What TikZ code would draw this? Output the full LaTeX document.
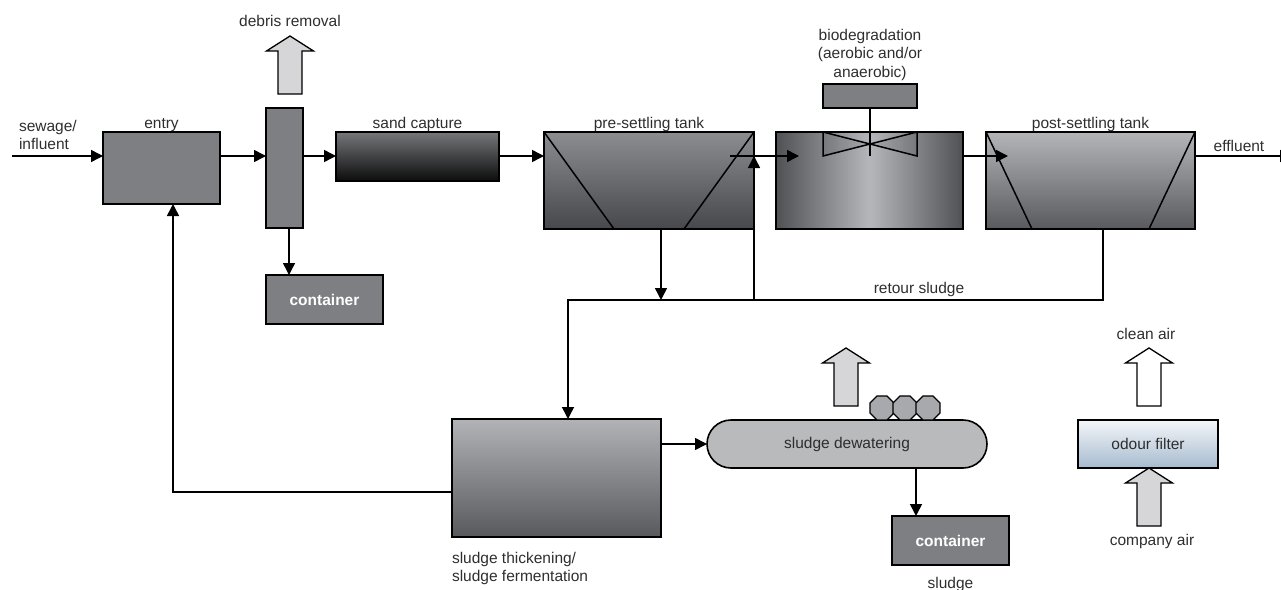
\documentclass[tikz,border=0pt]{standalone}
\usepackage{fontspec}
\setmainfont{Liberation Sans}
\usepackage{tikz}
\usetikzlibrary{positioning}
\usetikzlibrary{arrows.meta}
\usetikzlibrary{shapes.geometric}
\usepackage{xcolor}

\definecolor{txtgray}{HTML}{2E2E2E}
\definecolor{boxgray}{HTML}{7E7F83}
\definecolor{sandtop}{HTML}{76777B}
\definecolor{sandbot}{HTML}{0C0C0C}
\definecolor{pretop}{HTML}{8C8D91}
\definecolor{prebot}{HTML}{47484C}
\definecolor{bioedge}{HTML}{505155}
\definecolor{biomid}{HTML}{B5B7BA}
\definecolor{posttop}{HTML}{B3B5B8}
\definecolor{postbot}{HTML}{595A5E}
\definecolor{thicktop}{HTML}{B1B3B6}
\definecolor{thickbot}{HTML}{58595D}
\definecolor{dewgray}{HTML}{B9BABC}
\definecolor{rollgray}{HTML}{A8A9AC}
\definecolor{arrowgray}{HTML}{D6D6D8}
\definecolor{filtop}{HTML}{F4F6F9}
\definecolor{filbot}{HTML}{A6BBCF}

% block arrow pointing up: bottom centre, fill
\newcommand{\airarrow}[2]{%
\draw[line width=1.3pt, fill=#2] (#1) ++(-12,0) -- ++(0,-43) -- ++(-11.5,0) -- ++(23.5,-15) -- ++(23.5,15) -- ++(-11.5,0) -- ++(0,43) -- cycle;}

\begin{document}
\begin{tikzpicture}[x=1pt, y=-1pt,
  font=\fontsize{15.5}{18.5}\selectfont,
  every node/.style={text=txtgray, inner sep=0pt, outer sep=0pt},
  tank/.style={draw=black, line width=2pt},
  unit/.style={tank, fill=boxgray},
  boxtext/.style={text=white, font=\fontsize{15.5}{18.5}\selectfont\bfseries},
  flow/.style={line width=1.5pt, -{Triangle[length=12pt,width=12pt]}},
  pipe/.style={line width=1.5pt}]

\useasboundingbox (0,0) rectangle (1281,589);

\coordinate (main) at (0,156);
\coordinate (in) at (12,156);
\coordinate (split) at (754,300);
\coordinate (preout) at (730,156);
\coordinate (bioin) at (799,156);
\coordinate (postin) at (1008,156);
\coordinate (out) at (1292,156);

% units
\node (entry) [unit, minimum width=117pt, minimum height=72pt] at (161.5,168) {};
\node (screen) [unit, minimum width=37pt, minimum height=120pt] at (284.5,168) {};
\node (cont1) [unit, boxtext, minimum width=117pt, minimum height=49pt] at (324.5,299.5) {container};
\node (sand) [tank, top color=sandtop, bottom color=sandbot, minimum width=163pt, minimum height=49pt] at (417.5,156.5) {};
\node (pre) [tank, top color=pretop, bottom color=prebot, minimum width=210pt, minimum height=97pt] at (649,180.5) {};
\node (bio) [tank, left color=bioedge, right color=bioedge, middle color=biomid, minimum width=187pt, minimum height=97pt] at (869.5,180.5) {};
\node (biotop) [unit, minimum width=94pt, minimum height=24pt] at (870,96) {};
\node (post) [tank, top color=posttop, bottom color=postbot, minimum width=209pt, minimum height=97pt] at (1090.5,180.5) {};
\node (thick) [tank, top color=thicktop, bottom color=thickbot, minimum width=209pt, minimum height=118pt] at (556.5,478) {};
\node (dewater) [tank, line width=1.6pt, fill=dewgray, rounded corners=24pt, minimum width=280pt, minimum height=48pt] at (847,444) {sludge dewatering};
\node (cont2) [unit, boxtext, minimum width=117pt, minimum height=49pt] at (950.5,540.5) {container};
\node (filter) [tank, top color=filtop, bottom color=filbot, minimum width=140pt, minimum height=48pt] at (1148,444) {odour filter};

\foreach \i/\x in {1/882,2/905,3/928}
  \node (roll\i) [draw, line width=1.2pt, fill=rollgray, regular polygon, regular polygon sides=8, minimum size=26pt] at (\x,408) {};

% settling walls and aerator
\draw[pipe] (pre.north west) -- ([xshift=70pt]pre.south west);
\draw[pipe] (pre.north east) -- ([xshift=-70pt]pre.south east);
\draw[pipe] (post.north west) -- ([xshift=46pt]post.south west);
\draw[pipe] (post.north east) -- ([xshift=-46pt]post.south east);
\draw[pipe, fill=black, fill opacity=0.08] (biotop.south west |- bio.north) -- ++(94,24) -- ++(0,-24) -- ++(-94,24) -- cycle;
\draw[pipe] (biotop.south) -- (biotop.south |- main);

% labels
\node (sewlbl) [anchor=north west, align=left] at (19,120) {sewage/\\influent};
\node (entrylbl) [above=4pt of entry, anchor=base] {entry};
\node (debrislbl) [anchor=base] at (290,27) {debris removal};
\node (sandlbl) [above=4pt of sand, anchor=base] {sand capture};
\node (prelbl) [above=4pt of pre, anchor=base] {pre-settling tank};
\node (biolbl) [above=3.5pt of biotop, align=center] {biodegradation\\(aerobic and/or\\anaerobic)};
\node (postlbl) [above=4pt of post, anchor=base] {post-settling tank};
\node (efflbl) [anchor=base] at (1239,151) {effluent};
\node (retlbl) [anchor=base] at (919,293) {retour sludge};
\node (thicklbl) [below=15pt of thick.south west, anchor=north west, align=left] {sludge thickening/\\sludge fermentation};
\node (sludgelbl) [below=23pt of cont2, anchor=base] {sludge};
\node (cleanlbl) [anchor=base] at (1146,339) {clean air};
\node (complbl) [anchor=base] at (1152,545) {company air};

% air and debris
\airarrow{290,94}{arrowgray}
\airarrow{846,406}{arrowgray}
\airarrow{1149,406}{white}
\airarrow{1149,526}{arrowgray}

% flows
\coordinate (scrdown) at ([xshift=4.5pt]screen.south);
\coordinate (predown) at ([xshift=12pt]pre.south);
\coordinate (postdown) at ([xshift=12.5pt]post.south);
\coordinate (thickin) at ([xshift=11.5pt]thick.north);
\coordinate (thickout) at ([yshift=-14pt]thick.west);
\coordinate (entryin) at ([xshift=11.5pt]entry.south);
\coordinate (dewdown) at ([xshift=24pt]cont2.north west);

\draw[flow] (in) -- (entry.west |- in);
\draw[flow] (entry.east |- main) -- (screen.west |- main);
\draw[flow] (screen.east |- main) -- (sand.west |- main);
\draw[flow] (sand.east |- main) -- (pre.west |- main);
\draw[flow] (preout) -- (bioin);
\draw[flow] (bio.east |- main) -- (postin);
\draw[flow] (post.east |- main) -- (out);
\draw[flow] (scrdown) -- (scrdown |- cont1.north);
\draw[flow] (predown) -- (predown |- split);
\draw[flow] (split) -- (pre.east |- main);
\draw[flow] (postdown) |- (thickin |- split) -- (thickin);
\draw[flow] (thickout) -| (entryin);
\draw[flow] (thick.east |- dewater) -- (dewater.west);
\draw[flow] (dewdown |- dewater.south) -- (dewdown);

\end{tikzpicture}
\end{document}
